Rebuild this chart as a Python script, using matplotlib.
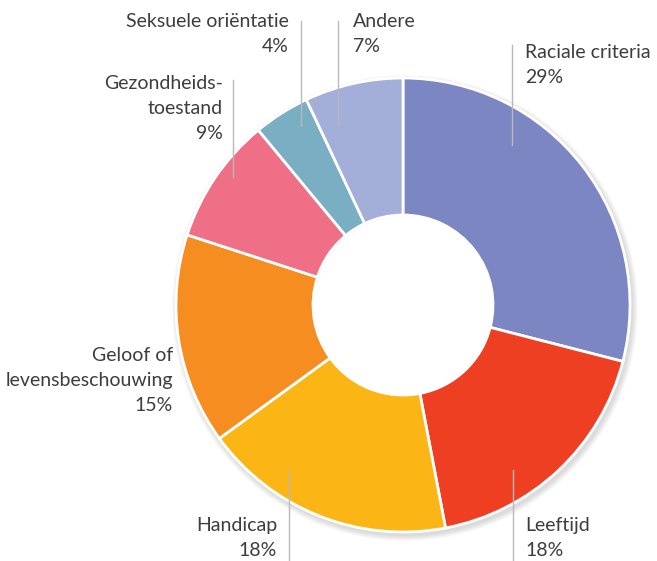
import numpy as np
import matplotlib
matplotlib.use('Agg')
import matplotlib.pyplot as plt
from matplotlib.patches import Wedge

plt.rcParams['font.family'] = ['Lato', 'DejaVu Sans']

# discriminatiegronden, met de klok mee vanaf boven
labels = ['Raciale criteria', 'Leeftijd', 'Handicap', 'Geloof of\nlevensbeschouwing',
          'Gezondheids-\ntoestand', 'Seksuele oriëntatie', 'Andere']
shares = [29, 18, 18, 15, 9, 4, 7]
colors = ['#7b86c2', '#ef3f23', '#fbb616', '#f58d20', '#ef6f86', '#7aaec3', '#a3aed9']

W, H = 657, 561
fig = plt.figure(figsize=(W / 100, H / 100), dpi=100)
ax = fig.add_axes([0, 0, 1, 1])

cx, cy = 403, H - 305
r_out, r_in = 227, 90

# zachte schaduw onder de ring
for k in range(6):
    ax.add_patch(Wedge((cx + 2, cy - 3), r_out + 1 + k, 0, 360, width=r_out - r_in,
                       facecolor='black', alpha=0.025, edgecolor='none', zorder=1))

ax.pie(shares, colors=colors, startangle=90, counterclock=False,
       center=(cx, cy), radius=r_out, frame=True,
       wedgeprops=dict(width=r_out - r_in, edgecolor='white', linewidth=2, zorder=2))
ax.set_xlim(0, W)
ax.set_ylim(0, H)
ax.set_aspect('equal')
ax.axis('off')

text_color = '#3d3d3d'
line_color = '#b9b9b9'

# (tekst x, tekst top y, uitlijning, lijn x, lijn y0, lijn y1)
placement = [
    (525, 44, 'left', 512, 45, 145),
    (525, 517, 'left', 513, 470, 561),
    (277, 517, 'right', 289, 471, 561),
    (173, 347, 'right', None, None, None),
    (223, 75, 'right', 233, 80, 177),
    (289, 13, 'right', 301, 21, 126),
    (353, 13, 'left', 338, 21, 126),
]

for lab, pct, (tx, ty, ha, lx, y0, y1) in zip(labels, shares, placement):
    ax.text(tx, H - ty, f'{lab}\n{pct}%', ha=ha, va='top', fontsize=14,
            color=text_color, linespacing=1.58, zorder=4)
    if lx is not None:
        ax.plot([lx, lx], [H - y0, H - y1], color=line_color, linewidth=1, zorder=3)

fig.savefig('out.png', dpi=100, facecolor='white')
